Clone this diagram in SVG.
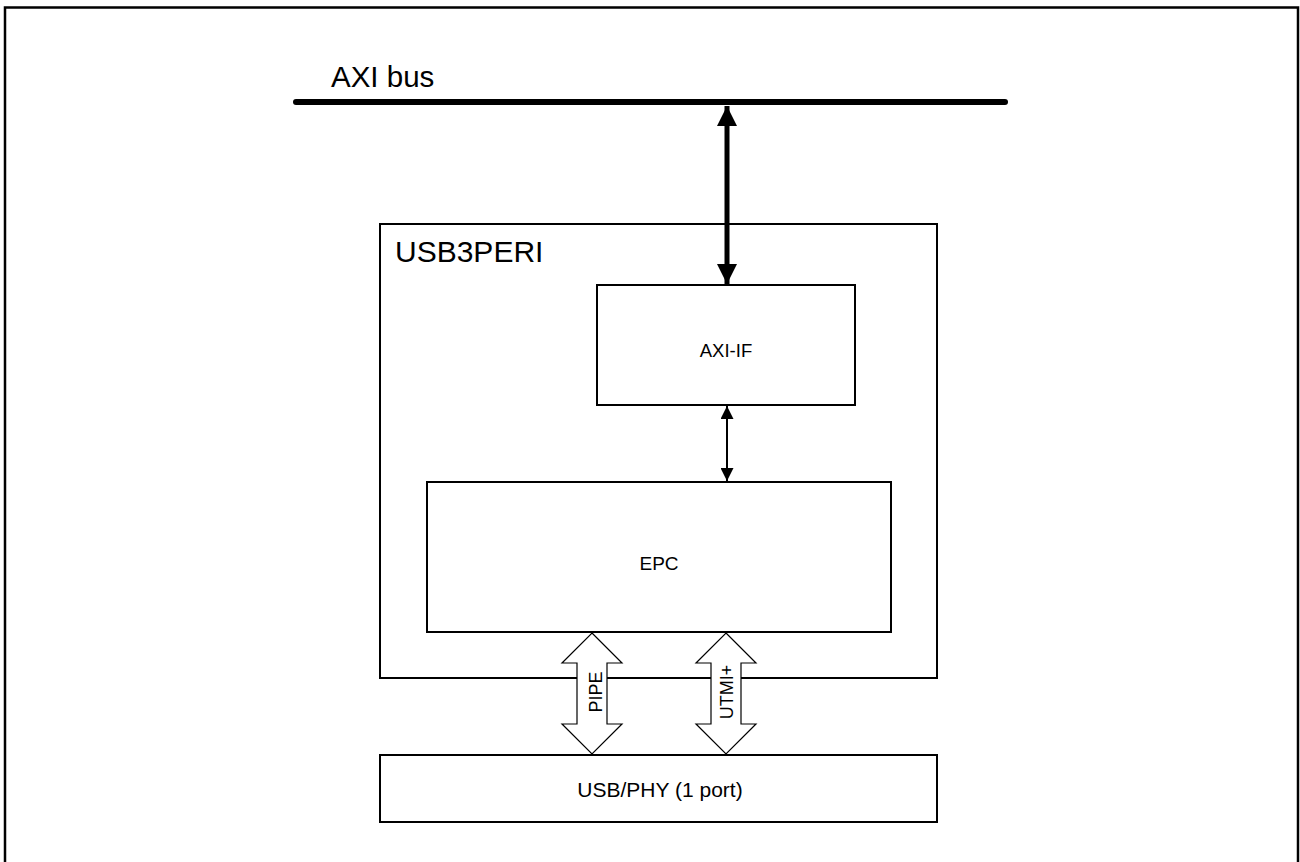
<svg xmlns="http://www.w3.org/2000/svg" width="1300" height="862" viewBox="0 0 1300 862">
<defs>
<style>
.box{fill:#fff;stroke:#000;stroke-width:2}
.t{font-family:"Liberation Sans",Arial,sans-serif;fill:#000}
.fat{fill:#fff;stroke:#000;stroke-width:1.2}
</style>
<marker id="big" viewBox="0 0 10 10" refX="10" refY="5" markerWidth="4" markerHeight="4.4" markerUnits="strokeWidth" orient="auto-start-reverse"><path d="M0,0 L10,5 L0,10 z" fill="#000"/></marker>
<marker id="sm" viewBox="0 0 10 10" refX="10" refY="5" markerWidth="6.5" markerHeight="6.5" markerUnits="strokeWidth" orient="auto-start-reverse"><path d="M0,0 L10,5 L0,10 z" fill="#000"/></marker>
</defs>
<rect x="0" y="0" width="1300" height="862" fill="#fff"/>
<rect x="5" y="7.5" width="1293" height="900" fill="none" stroke="#000" stroke-width="2.5"/>
<g id="axibus">
<line x1="296" y1="102" x2="1005" y2="102" stroke="#000" stroke-width="6" stroke-linecap="round"/>
<text class="t" x="331" y="87" font-size="29.5">AXI bus</text>
</g>
<g id="usb3peri">
<rect class="box" x="380" y="224" width="557" height="454"/>
<text class="t" x="395" y="262" font-size="30">USB3PERI</text>
</g>
<g id="axiif">
<rect class="box" x="597" y="285" width="258" height="120"/>
<text class="t" x="726" y="357" font-size="18.5" text-anchor="middle">AXI-IF</text>
</g>
<g id="epc">
<rect class="box" x="427" y="482" width="464" height="150"/>
<text class="t" x="659" y="570" font-size="19" text-anchor="middle">EPC</text>
</g>
<g id="usbphy">
<rect class="box" x="380" y="755" width="557" height="67"/>
<text class="t" x="660" y="797" font-size="21" text-anchor="middle">USB/PHY (1 port)</text>
</g>
<g id="connectors">
<line x1="727" y1="106" x2="727" y2="284" stroke="#000" stroke-width="5" marker-start="url(#big)" marker-end="url(#big)"/>
<line x1="727" y1="406" x2="727" y2="481" stroke="#000" stroke-width="2" marker-start="url(#sm)" marker-end="url(#sm)"/>
<path class="fat" d="M592,633 L622,663 L607,663 L607,724 L622,724 L592,754 L562,724 L577,724 L577,663 L562,663 Z"/>
<path class="fat" d="M726,633 L756,663 L741,663 L741,724 L756,724 L726,754 L696,724 L711,724 L711,663 L696,663 Z"/>
<text class="t" font-size="18" text-anchor="middle" transform="translate(602,692) rotate(-90)">PIPE</text>
<text class="t" font-size="18" text-anchor="middle" transform="translate(733,692) rotate(-90)">UTMI+</text>
</g>
</svg>
